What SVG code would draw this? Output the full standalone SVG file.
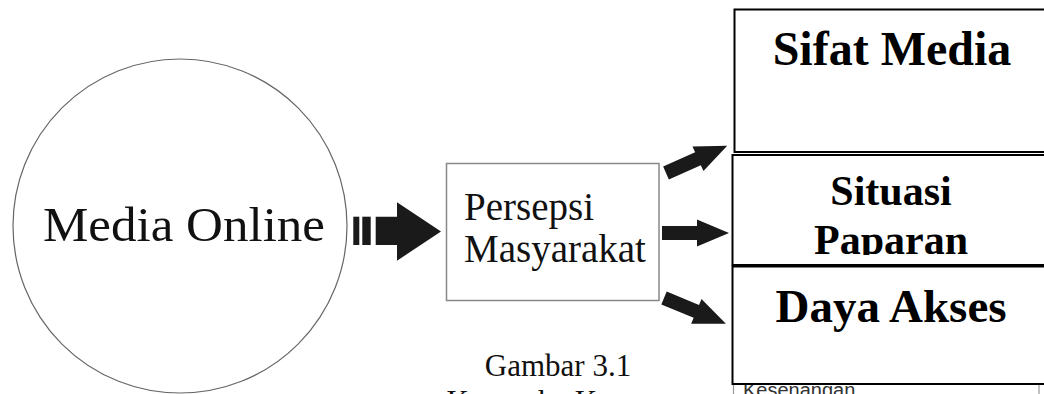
<svg xmlns="http://www.w3.org/2000/svg" width="1044" height="394" viewBox="0 0 1044 394">
  <style>
    .serif { font-family: "Liberation Serif", "Times New Roman", serif; fill: #111; }
    .bold { font-weight: bold; fill: #000; }
    .factor { fill: #fff; stroke: #000; stroke-width: 2; }
    .arrow { fill: #1a1a1a; }
  </style>
  <defs>
    <!-- thick block arrow, tail at origin, pointing along +x -->
    <path id="fatArrow" d="M0,-7 H35 V-13.5 L67,0 L35,13.5 V7 H0 Z"/>
    <clipPath id="clipSituasi">
      <rect x="733" y="156" width="320" height="99"/>
    </clipPath>
  </defs>

  <rect width="1044" height="394" fill="#fff"/>

  <g id="media-online">
    <circle cx="180" cy="226" r="167" fill="#fff" stroke="#666" stroke-width="1.2"/>
    <text class="serif" x="43" y="240.5" font-size="48" textLength="282" lengthAdjust="spacingAndGlyphs">Media Online</text>
  </g>

  <g id="persepsi-masyarakat">
    <rect x="446.5" y="163.5" width="212.5" height="137" fill="#fff" stroke="#888" stroke-width="1.5"/>
    <text class="serif" x="464" y="220" font-size="39">Persepsi</text>
    <text class="serif" x="464" y="261.5" font-size="39">Masyarakat</text>
  </g>

  <g id="kesenangan">
    <rect x="733.5" y="370" width="305.5" height="40" fill="#fff" stroke="#999" stroke-width="1.2"/>
    <text x="743" y="397" font-size="20" fill="#333" font-family="'Liberation Sans', Arial, sans-serif">Kesenangan</text>
  </g>

  <g id="sifat-media">
    <rect class="factor" x="734.5" y="9.5" width="320" height="142.5"/>
    <text class="serif bold" x="892" y="65" font-size="48" text-anchor="middle">Sifat Media</text>
  </g>

  <g id="situasi-paparan">
    <rect class="factor" x="732.5" y="155" width="320" height="110"/>
    <g clip-path="url(#clipSituasi)">
      <text class="serif bold" x="891" y="205" font-size="42" text-anchor="middle">Situasi</text>
      <text class="serif bold" x="891" y="254" font-size="42" text-anchor="middle">Paparan</text>
    </g>
  </g>

  <g id="daya-akses">
    <rect class="factor" x="732.5" y="266.5" width="320" height="117.5"/>
    <text class="serif bold" x="891" y="322" font-size="47" text-anchor="middle">Daya Akses</text>
  </g>

  <g id="connectors">
    <!-- striped arrow from the circle into the perception box -->
    <g class="arrow">
      <rect x="353.3" y="216.7" width="6" height="28.3"/>
      <rect x="362.3" y="216.7" width="8.4" height="28.3"/>
      <path d="M375.7,216.7 H397 V202.3 L441,231.5 L397,260.7 V245 H375.7 Z"/>
    </g>
    <!-- fan-out arrows to the three factors -->
    <use href="#fatArrow" class="arrow" transform="translate(666,173) rotate(-24)"/>
    <use href="#fatArrow" class="arrow" transform="translate(662,233)"/>
    <use href="#fatArrow" class="arrow" transform="translate(664,298) rotate(22.5)"/>
  </g>

  <g id="caption">
    <text class="serif" x="558" y="376" font-size="31" text-anchor="middle">Gambar 3.1</text>
    <text class="serif" x="558" y="411.5" font-size="31" text-anchor="middle">Kerangka Konsep</text>
  </g>
</svg>
